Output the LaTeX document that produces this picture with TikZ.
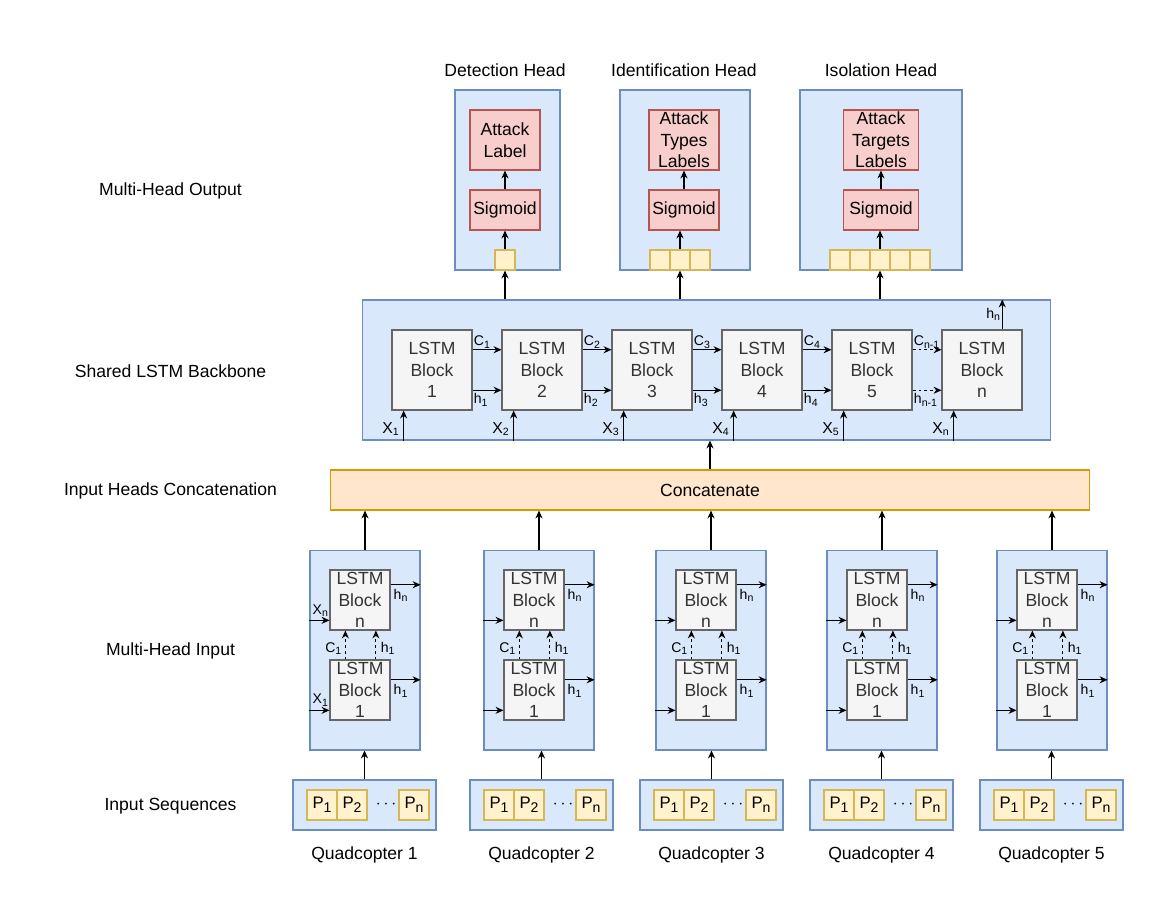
\documentclass[tikz,border=0pt]{standalone}
\usepackage{fontspec}
\setmainfont{Liberation Sans}
\usepackage{tikz}
\usetikzlibrary{arrows.meta,calc}

\definecolor{panelfill}{HTML}{DAE8FC}
\definecolor{panelline}{HTML}{6C8EBF}
\definecolor{redfill}{HTML}{F8CECC}
\definecolor{redline}{HTML}{B85450}
\definecolor{cellfill}{HTML}{FFF2CC}
\definecolor{cellline}{HTML}{D6B656}
\definecolor{catfill}{HTML}{FFE6CC}
\definecolor{catline}{HTML}{D79B00}
\definecolor{blkfill}{HTML}{F5F5F5}
\definecolor{blkline}{HTML}{666666}
\definecolor{blktext}{HTML}{333333}

\newcommand{\psub}[1]{\raisebox{-0.45ex}{\fontsize{8}{9}\selectfont#1}}

\tikzset{
  txt/.style={font=\fontsize{10}{12.3}\selectfont},
  inlbl/.style={font=\fontsize{8}{9}\selectfont,inner sep=0.5pt},
  bblbl/.style={font=\fontsize{8}{9}\selectfont,inner sep=0.5pt},
  bbx/.style={font=\fontsize{9}{10}\selectfont,inner sep=0.5pt},
  panel/.style={draw=panelline,fill=panelfill,line width=0.6pt,inner sep=0pt},
  redbox/.style={draw=redline,fill=redfill,txt,align=center,inner sep=0pt,minimum width=1.4cm,line width=0.6pt},
  cell/.style={draw=cellline,fill=cellfill,inner sep=0pt,minimum size=0.4cm,line width=0.6pt},
  pcell/.style={cell,minimum size=0.6cm,font=\fontsize{9.5}{10}\selectfont},
  lstm/.style={draw=blkline,fill=blkfill,text=blktext,txt,align=center,inner sep=0pt,minimum size=1.6cm,line width=0.6pt},
  catbox/.style={draw=catline,fill=catfill,txt,inner sep=0pt,minimum width=15.2cm,minimum height=0.8cm,line width=0.6pt},
  arr/.style={-{Stealth[length=4.5pt,width=4pt]},line width=0.6pt},
  darr/.style={arr,dash pattern=on 1.7pt off 1.7pt}
}

\begin{document}
\begin{tikzpicture}[x=0.02cm,y=-0.02cm]
\useasboundingbox (0,0) rectangle (1173,923);

\node[txt] (l-out) at (170.5,191) {Multi-Head Output};
\node[txt] (l-bb) at (170.5,371) {Shared LSTM Backbone};
\node[txt] (l-cat) at (170.5,491) {Input Heads Concatenation};
\node[txt] (l-in) at (170.5,651) {Multi-Head Input};
\node[txt] (l-seq) at (170.5,806) {Input Sequences};

\node[txt] (t-det) at (505,70) {Detection Head};
\node[txt] (t-idf) at (684,70) {Identification Head};
\node[txt] (t-iso) at (881,70) {Isolation Head};

\node[panel,minimum width=2.1cm,minimum height=3.6cm] (det) at (507.5,180) {};
\node[panel,minimum width=2.6cm,minimum height=3.6cm] (idf) at (685,180) {};
\node[panel,minimum width=3.24cm,minimum height=3.6cm] (iso) at (881,180) {};

\node[redbox,minimum height=1.2cm] (det-lab) at (505,140) {Attack\\Label};
\node[redbox,minimum height=0.8cm] (det-sig) at (505,210) {Sigmoid};
\node[redbox,minimum height=1.2cm] (idf-lab) at (684,140) {Attack\\Types\\Labels};
\node[redbox,minimum height=0.8cm] (idf-sig) at (684,210) {Sigmoid};
\node[redbox,minimum width=1.5cm,minimum height=1.2cm] (iso-lab) at (881,140) {Attack\\Targets\\Labels};
\node[redbox,minimum width=1.5cm,minimum height=0.8cm] (iso-sig) at (881,210) {Sigmoid};

\node[cell] (det-c1) at (505,260) {};
\foreach \k in {1,2,3} \node[cell] (idf-c\k) at ({640+20*\k},260) {};
\foreach \k in {1,...,5} \node[cell] (iso-c\k) at ({820+20*\k},260) {};

\draw[arr] (det-c1) -- (det-sig);
\draw[arr] (det-sig) -- (det-lab);
\draw[arr] (idf-c2.north) -- (idf-c2.north |- idf-sig.south);
\draw[arr] (idf-sig) -- (idf-lab);
\draw[arr] (iso-c3.north) -- (iso-c3.north |- iso-sig.south);
\draw[arr] (iso-sig) -- (iso-lab);

\node[panel,minimum width=13.78cm,minimum height=2.8cm] (bb) at (706.5,370) {};
\foreach \k/\t in {1/1,2/2,3/3,4/4,5/5,6/n}
  \node[lstm] (b\k) at ({322+110*\k},370) {LSTM\\Block\\\t};

\foreach \k/\n in {1/2,2/3,3/4,4/5} {
  \draw[arr] ($(b\k.north east)!0.25!(b\k.south east)$) -- ($(b\n.north west)!0.25!(b\n.south west)$)
    node[bblbl,pos=0,anchor=south west] (bc\k) {C\textsubscript{\k}};
  \draw[arr] ($(b\k.north east)!0.75!(b\k.south east)$) -- ($(b\n.north west)!0.75!(b\n.south west)$)
    node[bblbl,pos=0,anchor=north west,yshift=-1pt] (bh\k) {h\textsubscript{\k}};
}
\draw[darr] ($(b5.north east)!0.25!(b5.south east)$) -- ($(b6.north west)!0.25!(b6.south west)$)
  node[bblbl,pos=0,anchor=south west] (bc5) {C\textsubscript{n-1}};
\draw[darr] ($(b5.north east)!0.75!(b5.south east)$) -- ($(b6.north west)!0.75!(b6.south west)$)
  node[bblbl,pos=0,anchor=north west,yshift=-1pt] (bh5) {h\textsubscript{n-1}};

\foreach \k/\t in {1/1,2/2,3/3,4/4,5/5,6/n} {
  \coordinate (xb\k) at ($(b\k.south west)!0.15!(b\k.south east)$);
  \draw[arr] (xb\k |- bb.south) -- (xb\k)
    node[bbx,pos=0,anchor=south east,xshift=-1.5pt,yshift=2pt] (bx\k) {X\textsubscript{\t}};
}
\coordinate (hout) at ($(b6.north west)!0.75!(b6.north east)$);
\draw[arr] (hout) -- (hout |- bb.north) node[bblbl,midway,left] (bhn) {h\textsubscript{n}};

\node[catbox] (cat) at (710,490) {Concatenate};
\draw[arr] (cat.north) -- (cat.north |- bb.south);

\draw[arr] (det-c1 |- bb.north) -- (det-c1.south);
\draw[arr] (idf-c2 |- bb.north) -- (idf-c2.south);
\draw[arr] (iso-c3 |- bb.north) -- (iso-c3.south);

\foreach \k/\cx/\sx in {1/365/364.5,2/539/541.5,3/711/711.5,4/882/881.5,5/1052/1051.5} {
  \node[panel,minimum width=2.2cm,minimum height=4cm] (col\k) at (\cx,650) {};
  \node[lstm,minimum size=1.2cm] (bn\k) at ({\cx-5},600) {LSTM\\Block\\n};
  \node[lstm,minimum size=1.2cm] (bo\k) at ({\cx-5},690) {LSTM\\Block\\1};
  \coordinate (hn\k) at ($(bn\k.north east)!0.25!(bn\k.south east)$);
  \coordinate (ho\k) at ($(bo\k.north east)!0.333!(bo\k.south east)$);
  \coordinate (xn\k) at ($(bn\k.north west)!0.833!(bn\k.south west)$);
  \coordinate (xo\k) at ($(bo\k.north west)!0.833!(bo\k.south west)$);
  \draw[arr] (hn\k) -- (hn\k -| col\k.east) node[inlbl,pos=0,anchor=north west,xshift=1pt,yshift=-2pt] (lhn\k) {h\textsubscript{n}};
  \draw[arr] (ho\k) -- (ho\k -| col\k.east) node[inlbl,pos=0,anchor=north west,xshift=1pt,yshift=-2pt] (lho\k) {h\textsubscript{1}};
  \draw[arr] (xn\k -| col\k.west) -- (xn\k);
  \draw[arr] (xo\k -| col\k.west) -- (xo\k);
  \draw[darr] ($(bo\k.north west)!0.26!(bo\k.north east)$) -- ($(bn\k.south west)!0.26!(bn\k.south east)$)
    node[inlbl,midway,left,xshift=-1pt,yshift=-2pt] (lc\k) {C\textsubscript{1}};
  \draw[darr] ($(bo\k.north west)!0.76!(bo\k.north east)$) -- ($(bn\k.south west)!0.76!(bn\k.south east)$)
    node[inlbl,midway,right,xshift=2pt,yshift=-2pt] (lh\k) {h\textsubscript{1}};
  \draw[arr] (col\k.north) -- (col\k.north |- cat.south);
  \node[panel,minimum width=2.86cm,minimum height=1cm] (seq\k) at (\sx,805) {};
  \node[pcell] (pa\k) at ({\sx-42.5},805) {P\psub{1}};
  \node[pcell] (pb\k) at ({\sx-12.5},805) {P\psub{2}};
  \node[txt] (pd\k) at ({\sx+21.5},805) {$\cdots$};
  \node[pcell] (pn\k) at ({\sx+49.5},805) {P\psub{n}};
  \draw[arr] (seq\k.north) -- (seq\k.north |- col\k.south);
  \node[txt] (q\k) at (\sx,855) {Quadcopter \k};
}
\node[inlbl,anchor=south west] (lxn) at ($(xn1 -| col1.west)+(2,-3)$) {X\textsubscript{n}};
\node[inlbl,anchor=south west] (lxo) at ($(xo1 -| col1.west)+(2,-3)$) {X\textsubscript{1}};
\end{tikzpicture}
\end{document}
